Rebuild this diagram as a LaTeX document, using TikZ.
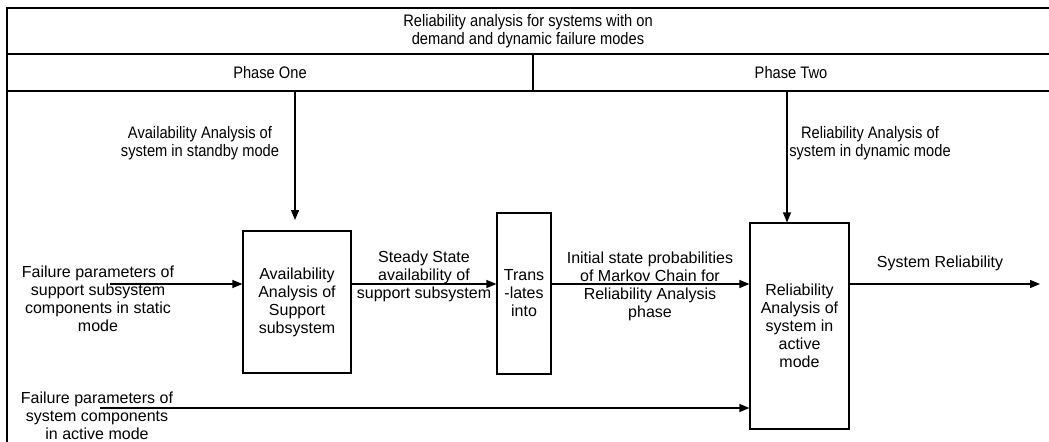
\documentclass[tikz,border=0pt]{standalone}
\usepackage{fontspec}
\setmainfont{Liberation Sans}
\newfontfamily\narrowfont[FakeStretch=0.88]{Liberation Sans}
\usetikzlibrary{arrows.meta}
\newcommand\bodyfont{\fontsize{12}{13.5}\selectfont}
\newcommand\hdrfont{\narrowfont\fontsize{12.5}{13.5}\selectfont}
\tikzset{
  rule/.style={line width=0.9pt},
  blk/.style={draw, line width=0.9pt, rectangle, inner sep=0pt, align=center, font=\bodyfont},
  lbl/.style={align=center, inner sep=0pt, font=\bodyfont},
  hdr/.style={align=center, inner sep=0pt, font=\hdrfont},
  flow/.style={line width=0.9pt, -{Triangle[length=7.5pt,width=6pt]}},
}
\begin{document}
\begin{tikzpicture}[x=0.75pt,y=-0.75pt]
\useasboundingbox (0,0) rectangle (1049,442);

% header table
\draw[rule] (7,442) -- (7,8) -- (1049,8);
\draw[rule] (7,54) -- (1049,54);
\draw[rule] (7,91) -- (1049,91);
\draw[rule] (533,54) -- (533,91);

\node[hdr] (title) at (528,31) {Reliability analysis for systems with on\\demand and dynamic failure modes};
\node[hdr] (ph1) at (270,73) {Phase One};
\node[hdr] (ph2) at (791,73) {Phase Two};

% inputs from above
\node[hdr] (standby) at (200,143) {Availability Analysis of\\system in standby mode};
\node[hdr] (dynamic) at (870,143) {Reliability Analysis of\\system in dynamic mode};

% process blocks
\node[blk, minimum width=81pt, minimum height=106.5pt] (avail) at (297,302)
  {Availability\\Analysis of\\Support\\subsystem};
\node[blk, minimum width=40.5pt, minimum height=120.75pt] (trans) at (524,293.5)
  {Trans\\-lates\\into};
\node[blk, minimum width=74.25pt, minimum height=154.5pt] (rel) at (799.5,326)
  {Reliability\\Analysis of\\system in\\active\\mode};

% flow labels
\node[lbl] (fpsup) at (98,299) {Failure parameters of\\support subsystem\\components in static\\mode};
\node[lbl] (steady) at (424,276) {Steady State\\availability of\\support subsystem};
\node[lbl] (initial) at (650,286) {Initial state probabilities\\of Markov Chain for\\Reliability Analysis\\phase};
\node[lbl] (sysrel) at (940,263) {System Reliability};
\node[lbl] (fpsys) at (97,415.5) {Failure parameters of\\system components\\in active mode};

% connector end points
\coordinate (lev) at (0,284);
\coordinate (inA) at (110,284);
\coordinate (outR) at (1040,284);
\coordinate (inB) at (100,408);
\coordinate (dropA) at (295,91);
\coordinate (dropAend) at (295,220);
\coordinate (dropB) at (787,91);

% connectors
\draw[flow] (inA) -- (avail.west |- inA);
\draw[flow] (avail.east |- lev) -- (trans.west |- lev);
\draw[flow] (trans.east |- lev) -- (rel.west |- lev);
\draw[flow] (rel.east |- lev) -- (outR);
\draw[flow] (inB) -- (rel.west |- inB);
\draw[flow] (dropA) -- (dropAend);
\draw[flow] (dropB) -- (dropB |- rel.north);
\end{tikzpicture}
\end{document}
